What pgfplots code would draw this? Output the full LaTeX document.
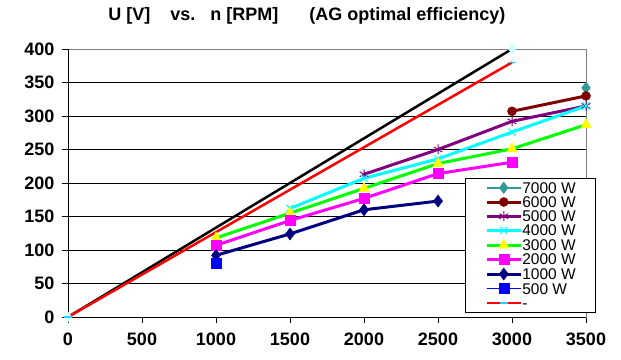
\documentclass[border=0pt]{standalone}
\usepackage{pgfplots}
\pgfplotsset{compat=1.18}
\usepackage{fontspec}
\setmainfont{Liberation Sans}
\definecolor{cTeal}{RGB}{51,153,153}
\definecolor{cDRed}{RGB}{128,0,0}
\definecolor{cPurple}{RGB}{128,0,128}
\definecolor{cCyan}{RGB}{0,255,255}
\definecolor{cGreen}{RGB}{0,255,0}
\definecolor{cYellow}{RGB}{255,255,0}
\definecolor{cMagenta}{RGB}{255,0,255}
\definecolor{cNavy}{RGB}{0,0,128}
\definecolor{cBlue}{RGB}{0,0,255}
\definecolor{cRed}{RGB}{255,0,0}
\definecolor{cPale}{RGB}{204,255,255}
\definecolor{cLBlue}{RGB}{51,204,255}
\begin{document}
\begin{tikzpicture}
\begin{axis}[
  name=ax,
  scale only axis, width=518pt, height=268pt,
  xmin=0, xmax=3500, ymin=0, ymax=400,
  xtick={0,500,...,3500}, ytick={0,50,...,400},
  /pgf/number format/assume math mode=true,
  /pgf/number format/1000 sep={},
  ticklabel style={font=\fontsize{18}{18}\selectfont\bfseries},
  xticklabel style={yshift=-6pt},
  yticklabel style={xshift=-4pt},
  tick align=outside, major tick length=6pt,
  tick style={black, line width=0.8pt},
  xtick pos=bottom, ytick pos=left,
  ymajorgrids, grid style={black, line width=0.6pt},
  axis line style={gray, line width=0.8pt},
  clip=false,
  title={\fontsize{18}{18}\selectfont\bfseries U [V]\hspace{20pt}vs.\hspace{15pt}n [RPM]\hspace{31pt}(AG optimal efficiency)},
  title style={at={(rel axis cs:0.461,1)}, anchor=base, yshift=22pt, inner sep=0pt},
  legend style={at={(rel axis cs:0.766,0.519)}, anchor=north west, draw=black, line width=0.8pt,
    font=\fontsize{15.5}{15.5}\selectfont, row sep=3.2pt, inner xsep=20pt, inner ysep=4pt,
    nodes={inner sep=0pt, text height=11pt, text depth=0pt},
    legend cell align=left},
  legend image code/.code={\draw[#1] (0cm,0cm) -- (1.2cm,0cm); \draw[#1, mark repeat=2, mark phase=2] plot coordinates {(0cm,0cm) (0.6cm,0cm) (1.2cm,0cm)};},
]
% black reference line (not in legend)
\addplot[black, line width=2.5pt, mark=diamond*, mark size=5pt, mark options={fill=cPale, draw=cPale, line width=0.5pt}, forget plot] coordinates {(0,0) (3000,400)};
\addplot[cTeal, line width=1.5pt, mark=diamond*, mark size=5pt, mark options={fill=cTeal, draw=cTeal}] coordinates {(3500,342)};
\addlegendentry{7000 W}
\addplot[cDRed, line width=3pt, mark=*, mark size=4.5pt, mark options={line width=0.5pt}] coordinates {(3000,307) (3500,330)};
\addlegendentry{6000 W}
\addplot[cPurple, line width=3pt, mark=asterisk, mark size=5pt, mark options={line width=1pt}] coordinates {(2000,213) (2500,250) (3000,292) (3500,315)};
\addlegendentry{5000 W}
\addplot[cCyan, line width=3pt, mark=x, mark size=5pt, mark options={line width=1pt}] coordinates {(1500,162) (2000,207) (2500,236) (3000,276) (3500,315)};
\addlegendentry{4000 W}
\addplot[cGreen, line width=3pt, mark=triangle*, mark size=6pt, mark options={fill=cYellow, draw=cYellow, line width=0.5pt}] coordinates {(1000,118) (1500,155) (2000,192) (2500,229) (3000,251) (3500,287)};
\addlegendentry{3000 W}
\addplot[cMagenta, line width=3pt, mark=square*, mark size=5pt, mark options={line width=0.5pt}] coordinates {(1000,107) (1500,144) (2000,177) (2500,214) (3000,231)};
\addlegendentry{2000 W}
\addplot[cNavy, line width=3pt, mark=diamond*, mark size=6pt, mark options={line width=0.5pt}] coordinates {(1000,92) (1500,124) (2000,160) (2500,173)};
\addlegendentry{1000 W}
\addplot[cBlue, line width=1.2pt, mark=square*, mark size=5pt, mark options={line width=0.5pt}] coordinates {(1000,80)};
\addlegendentry{500 W}
\addplot[cRed, line width=2.5pt, mark=-, mark size=4pt, mark options={cLBlue, line width=1.5pt}] coordinates {(0,0) (3000,380)};
\addlegendentry{-}
\draw[black, line width=0.8pt] (rel axis cs:0,0) -- (rel axis cs:0,1);
\draw[black, line width=0.8pt] (rel axis cs:0,0) -- (rel axis cs:1,0);
\end{axis}
\path[use as bounding box] ([xshift=-68pt,yshift=-43pt]ax.south west) rectangle ([xshift=35pt,yshift=49pt]ax.north east);
\end{tikzpicture}
\end{document}
